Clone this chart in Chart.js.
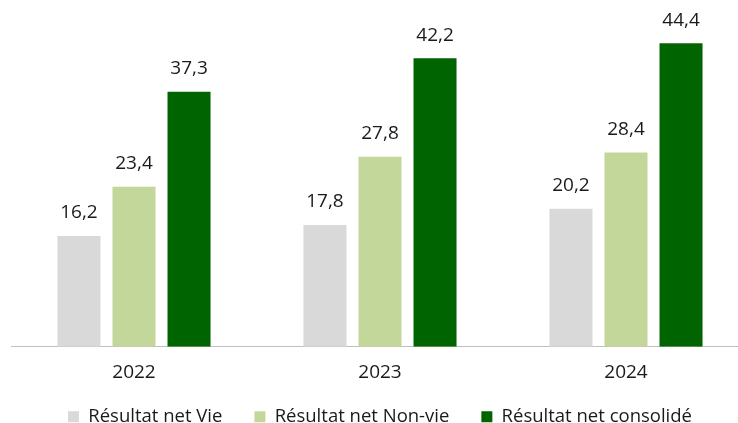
<!DOCTYPE html>
<html><head><meta charset="utf-8">
<script src="https://cdn.jsdelivr.net/npm/chart.js@4/dist/chart.umd.min.js"></script>
<style>html,body{margin:0;padding:0;overflow:hidden;background:#fff}#wrap{width:758px;height:423px;position:relative}</style>
</head><body><div id="wrap"><canvas id="c"></canvas></div>
<script>
const categories = ['2022', '2023', '2024'];
const seriesNames = ['Résultat net Vie', 'Résultat net Non-vie', 'Résultat net consolidé'];
const vie = [16.2, 17.8, 20.2];
const nonVie = [23.4, 27.8, 28.4];
const consolide = [37.3, 42.2, 44.4];
const colors = ['#d9d9d9', '#c4d79b', '#006400'];
const FONT = '"Open Sans"';

const labelPlugin = {
  id: 'vlabels',
  afterLayout(chart) {
    // lift the legend a little closer to the axis labels
    chart.legend.top -= 8;
    chart.legend.bottom -= 8;
  },
  afterDatasetsDraw(chart) {
    const ctx = chart.ctx;
    ctx.save();
    ctx.font = '19px ' + FONT;
    ctx.fillStyle = '#1a1a1a';
    ctx.textAlign = 'center';
    ctx.textBaseline = 'middle';
    chart.data.datasets.forEach((ds, i) => {
      chart.getDatasetMeta(i).data.forEach((bar, j) => {
        ctx.fillText(ds.data[j].toFixed(1).replace('.', ','), bar.x, bar.y - 23);
      });
    });
    ctx.restore();
  }
};

new Chart(document.getElementById('c'), {
  type: 'bar',
  data: {
    labels: categories,
    datasets: [
      { label: seriesNames[0], data: vie, backgroundColor: colors[0] },
      { label: seriesNames[1], data: nonVie, backgroundColor: colors[1] },
      { label: seriesNames[2], data: consolide, backgroundColor: colors[2] }
    ]
  },
  options: {
    responsive: true, maintainAspectRatio: false, animation: false,
    datasets: { bar: { categoryPercentage: 0.671, barPercentage: 0.782 } },
    layout: { padding: { left: 11, right: 9, top: 5, bottom: -21 } },
    scales: {
      x: {
        grid: { display: false, tickLength: 14 },
        border: { display: true, color: '#bfbfbf', width: 1 },
        ticks: { color: '#1a1a1a', font: { family: FONT, size: 19 }, padding: 0 }
      },
      y: { display: false, min: 0, max: 50 }
    },
    plugins: {
      legend: {
        position: 'bottom',
        labels: { boxWidth: 11, boxHeight: 11, padding: 32, color: '#1a1a1a', font: { family: FONT, size: 18.5 } }
      },
      tooltip: { enabled: false }
    }
  },
  plugins: [labelPlugin]
});
</script></body></html>
